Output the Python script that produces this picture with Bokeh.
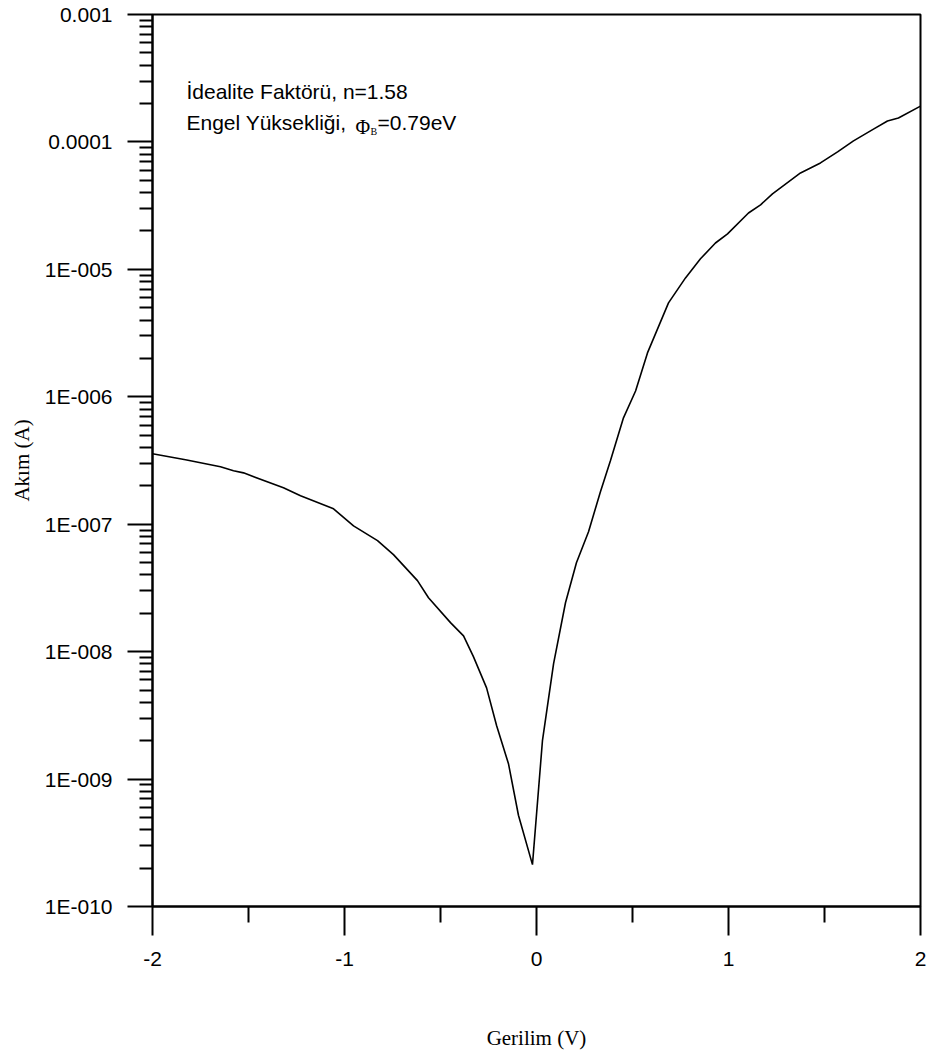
from bokeh.plotting import figure
from bokeh.models import Range1d, FixedTicker, CustomJSTickFormatter, Label, ColumnDataSource
from bokeh.embed import file_html
from bokeh.resources import INLINE

# ---- data ----
voltage = [-2.0, -1.828, -1.646, -1.578, -1.526, -1.318, -1.229, -1.057, -0.953, -0.828,
           -0.745, -0.620, -0.5625, -0.448, -0.380, -0.328, -0.260, -0.208, -0.146, -0.094,
           -0.021, 0.031, 0.089, 0.151, 0.208, 0.271, 0.333, 0.385, 0.453, 0.516,
           0.578, 0.6875, 0.776, 0.854, 0.932, 0.995, 1.104, 1.167, 1.229, 1.375,
           1.479, 1.568, 1.651, 1.755, 1.828, 1.885, 2.0]
current = [3.57e-7, 3.21e-7, 2.82e-7, 2.63e-7, 2.53e-7, 1.93e-7, 1.67e-7, 1.32e-7, 9.7e-8, 7.43e-8,
           5.77e-8, 3.61e-8, 2.65e-8, 1.69e-8, 1.33e-8, 9.1e-9, 5.2e-9, 2.63e-9, 1.32e-9, 5.2e-10,
           2.13e-10, 2.0e-9, 8.05e-9, 2.42e-8, 4.99e-8, 8.73e-8, 1.80e-7, 3.15e-7, 6.84e-7, 1.11e-6,
           2.21e-6, 5.46e-6, 8.57e-6, 1.21e-5, 1.61e-5, 1.90e-5, 2.77e-5, 3.21e-5, 3.91e-5, 5.71e-5,
           6.84e-5, 8.36e-5, 1.02e-4, 1.26e-4, 1.46e-4, 1.54e-4, 1.91e-4]

x_tick_values = [-2, -1, 0, 1, 2]
x_tick_labels = ["-2", "-1", "0", "1", "2"]
x_minor_values = [-1.5, -0.5, 0.5, 1.5]
y_tick_values = [1e-10, 1e-9, 1e-8, 1e-7, 1e-6, 1e-5, 1e-4, 1e-3]
y_tick_labels = ["1E-010", "1E-009", "1E-008", "1E-007", "1E-006", "1E-005", "0.0001", "0.001"]

x_label = "Gerilim (V)"
y_label = "Akım (A)"
note_line1 = "İdealite Faktörü, n=1.58"
note_line2 = "Engel Yüksekliği,"
note_phi = "Φ"
note_sub = "B"
note_value = "=0.79eV"

# ---- layout helpers (pixel -> data for annotation placement) ----
FL, FR, FT, FB = 152, 920, 14, 906
W, H = 930, 1059


def px_x(px):
    return -2 + (px - FL) * 4.0 / (FR - FL)


def px_y(py):
    return 10 ** (-10 + (FB - py) * 7.0 / (FB - FT))


p = figure(width=W, height=H, y_axis_type="log",
           x_range=Range1d(-2, 2), y_range=Range1d(1e-10, 1e-3),
           output_backend="svg", toolbar_location=None,
           min_border_left=FL, min_border_right=W - FR,
           min_border_top=FT, min_border_bottom=H - FB)
p.xgrid.visible = False
p.ygrid.visible = False
p.outline_line_color = "black"
p.outline_line_width = 2
p.background_fill_color = "white"
p.border_fill_color = "white"

src = ColumnDataSource(dict(v=voltage, i=current))
p.line("v", "i", source=src, line_color="black", line_width=1.6)

# x axis
xa = p.xaxis[0]
xa.ticker = FixedTicker(ticks=x_tick_values, minor_ticks=x_minor_values)
xa.formatter = CustomJSTickFormatter(args=dict(vals=x_tick_values, labs=x_tick_labels), code="""
for (let k = 0; k < vals.length; k++) { if (Math.abs(tick - vals[k]) < 1e-9) return labs[k]; }
return "";
""")
xa.major_tick_out = 29
xa.major_tick_in = 0
xa.minor_tick_out = 16
xa.minor_tick_in = 0
xa.axis_line_width = 2
xa.major_tick_line_width = 2
xa.minor_tick_line_width = 2
xa.major_label_text_font = "Liberation Sans"
xa.major_label_text_font_size = "21px"
xa.major_label_text_color = "black"
xa.major_label_standoff = 16
xa.axis_label = x_label
xa.axis_label_text_font = "Liberation Serif"
xa.axis_label_text_font_style = "normal"
xa.axis_label_text_font_size = "21px"
xa.axis_label_text_color = "black"
xa.axis_label_standoff = 57

# y axis
minor_y = [m * t for t in y_tick_values[:-1] for m in range(2, 10)]
ya = p.yaxis[0]
ya.ticker = FixedTicker(ticks=y_tick_values, minor_ticks=minor_y)
ya.formatter = CustomJSTickFormatter(args=dict(vals=y_tick_values, labs=y_tick_labels), code="""
for (let k = 0; k < vals.length; k++) {
  if (Math.abs(Math.log10(tick) - Math.log10(vals[k])) < 1e-6) return labs[k];
}
return "";
""")
ya.major_tick_out = 25
ya.major_tick_in = 0
ya.minor_tick_out = 13
ya.minor_tick_in = 0
ya.axis_line_width = 2
ya.major_tick_line_width = 2
ya.minor_tick_line_width = 2
ya.major_label_text_font = "Liberation Sans"
ya.major_label_text_font_size = "21px"
ya.major_label_text_color = "black"
ya.major_label_standoff = 15
ya.axis_label = y_label
ya.axis_label_text_font = "Liberation Serif"
ya.axis_label_text_font_style = "normal"
ya.axis_label_text_font_size = "21px"
ya.axis_label_text_color = "black"
ya.axis_label_standoff = 8

# annotation
common = dict(text_color="black", text_baseline="alphabetic", text_align="left")
p.add_layout(Label(x=px_x(186), y=px_y(91), text=note_line1, text_font="Liberation Sans",
                   text_font_size="21px", **common))
p.add_layout(Label(x=px_x(186), y=px_y(122), text=note_line2, text_font="Liberation Sans",
                   text_font_size="21px", **common))
p.add_layout(Label(x=px_x(355), y=px_y(126), text=note_phi, text_font="Liberation Serif",
                   text_font_size="20px", **common))
p.add_layout(Label(x=px_x(370), y=px_y(131), text=note_sub, text_font="Liberation Serif",
                   text_font_size="10px", **common))
p.add_layout(Label(x=px_x(377), y=px_y(122), text=note_value, text_font="Liberation Sans",
                   text_font_size="21px", **common))

open("out.html", "w").write(file_html(p, INLINE))
